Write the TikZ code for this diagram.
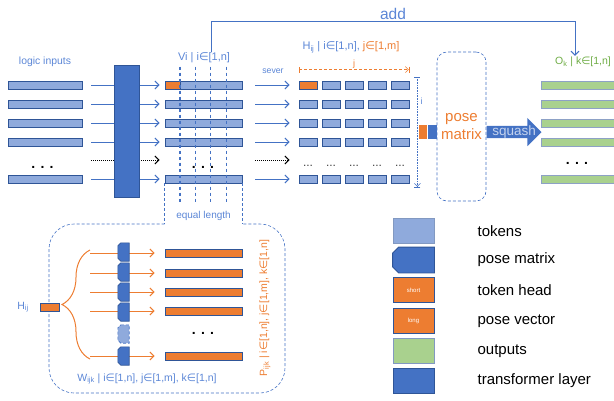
\documentclass[tikz,border=0pt]{standalone}
\usepackage{fontspec}
\setmainfont{Liberation Sans}
\newfontfamily\symf{DejaVu Sans}
\usepackage{xcolor}
\usepackage{tikz}
\usetikzlibrary{arrows.meta,decorations.pathreplacing,shapes.arrows,calc}

\definecolor{tokfill}{HTML}{8FAADC}
\definecolor{tokline}{HTML}{2F5597}
\definecolor{dblue}{HTML}{4472C4}
\definecolor{orng}{HTML}{ED7D31}
\definecolor{grn}{HTML}{A9D18E}
\definecolor{grntxt}{HTML}{70AD47}
\definecolor{lbl}{HTML}{5B86D6}
\definecolor{sqtxt}{HTML}{C5D3EE}
\newcommand{\fsz}[1]{\fontsize{#1}{#1}\selectfont}
\newcommand{\isin}{{\symf\char"2208}}
% pose matrix outline: left corners cut
\newcommand{\pmshape}[3]{%
  \filldraw[#1] ([xshift=#3]#2.north west) -- (#2.north east) -- (#2.south east)
    -- ([xshift=#3]#2.south west) -- ([yshift=#3]#2.south west)
    -- ([yshift=-#3]#2.north west) -- cycle;}

\begin{document}
\begin{tikzpicture}[
  x=1pt,y=-1pt,
  >={Straight Barb[length=4pt,width=8pt]},
  tokbar/.style={draw=tokline,fill=tokfill,line width=0.8pt,minimum height=8pt,inner sep=0pt,minimum width=#1},
  obar/.style={tokbar=#1,fill=orng},
  gbar/.style={tokbar=#1,fill=grn,draw=tokline!55},
  conn/.style={->,dblue,line width=1pt},
  dotconn/.style={->,densely dotted,line width=1pt,black},
  oconn/.style={->,orng,line width=1pt},
  cut/.style={dblue,dashed,line width=1.2pt},
  fine/.style={dblue,densely dashed,line width=0.6pt},
  pmat/.style={inner sep=0pt,minimum width=11pt,minimum height=18pt},
  pmline/.style={draw=tokline,fill=dblue,line width=0.6pt},
  lab/.style={text=lbl,inner sep=1pt},
  dots/.style={font=\fsz{14}\bfseries,inner sep=0pt},
  sdots/.style={font=\fsz{12},text=black!75,inner sep=0pt},
  keybox/.style={draw=tokline,line width=0.8pt,minimum width=41pt,minimum height=25pt,inner sep=0pt},
  keytxt/.style={anchor=west,font=\fsz{15},inner sep=0pt}
]
\useasboundingbox (0,0) rectangle (614,400);
\coordinate (gap) at (0,160);
\coordinate (boxtop) at (0,224);

% inputs, tokens and heads
\node[lab,font=\fsz{10.4}] (inlab) at (45,62) {logic inputs};
\foreach \r/\y in {1/85,2/104,3/123,4/142,6/179}{
  \node[tokbar=74] (in\r) at (45,\y) {};
  \node[tokbar=77] (v\r) at (203.5,\y) {};
  \foreach \c in {1,...,5}
    \node[tokbar=18] (h\r\c) at (285+23*\c,\y) {};
  \node[gbar=80] (o\r) at (581,\y) {};
}
\node[obar=15,anchor=west] (vh) at (v1.west) {};
\node[obar=18] (h11) at (308,85) {};
\node[dots] (indots) at (42.5,167) {. . .};
\node[dots] (vdots) at (203,167) {. . .};
\node[dots] (odots) at (577,163) {. . .};
\foreach \c in {1,...,5}
  \node[sdots] (hd\c) at (285+23*\c,166) {...};

\foreach \r in {1,2,3,4,6}{
  \draw[conn,shorten <=9pt,shorten >=5pt] (in\r) -- (v\r);
  \draw[conn,shorten <=13pt,shorten >=9pt] (v\r) -- (h\r1);
}
\draw[dotconn,shorten <=9pt,shorten >=5pt] (in1.east |- gap) -- (v1.west |- gap);
\draw[dotconn,shorten <=13pt,shorten >=9pt] (v1.east |- gap) -- (h11.west |- gap);
\node[fill=dblue,draw=tokline,line width=0.6pt,minimum width=25pt,minimum height=132pt,inner sep=0pt] (trf) at (126.5,131) {};

\foreach \k in {1,...,4}
  \draw[cut] ($(v1.north west)+(15.4*\k,-14)$) -- ($(v6.south west)+(15.4*\k,21)$);
\node[lab,font=\fsz{11}] (vlab) at (204,58) {Vi | i\isin[1,n]};
\node[lab,font=\fsz{8.7}] (sever) at (273,71) {sever};

% H grid labels and dimensions
\node[lab,font=\fsz{11}] (hlab) at (351,47) {H\textsubscript{ij} | i\isin[1,n],\ \textcolor{orng}{j\isin[1,m]}};
\draw[orng,densely dashed,line width=0.6pt,{Bar[width=6pt]}-{Straight Barb[length=3pt,width=6pt]Bar[width=6pt]}]
  ([yshift=11pt]h11.north west) -- node[above,font=\fsz{9},inner sep=1pt] (jlab) {j} ([yshift=11pt]h15.north east);
\draw[dblue,densely dotted,line width=0.6pt,{Bar[width=6pt]}-{Straight Barb[length=3pt,width=6pt]Bar[width=6pt]}]
  ([xshift=8pt,yshift=4pt]h15.north east) -- node[pos=0.22,right,lab,font=\fsz{9},inner sep=3pt] (ilab) {i} ([xshift=8pt,yshift=-4pt]h65.south east);

% pose matrix and squash
\node[draw=dblue,densely dashed,line width=0.6pt,rounded corners=10pt,minimum width=49pt,minimum height=149pt,
  text=orng,align=center,font=\fontsize{15}{18}\selectfont] (pose) at (461.5,126.5) {pose\\matrix};
\node[fill=dblue,minimum width=9pt,minimum height=14pt,inner sep=0pt,anchor=east] (pb) at (pose.west |- 0,132) {};
\node[fill=orng,minimum width=8pt,minimum height=14pt,inner sep=0pt,anchor=east] (ph) at (pb.west) {};
\node[single arrow,fill=dblue,anchor=tail,minimum height=55pt,single arrow head extend=8pt,single arrow head indent=0pt,
  inner sep=0pt,text height=9pt,text depth=3pt] (sq) at (pose.east |- pb) {};
\node[text=sqtxt,font=\fsz{13.5},inner sep=0pt] (sqlab) at ($(sq.tail)!0.5!(sq.tip)$) {squash};
\node[font=\fsz{10.5},text=grntxt,inner sep=1pt] (olab) at (583,62) {O\textsubscript{k} | k\isin[1,n]};
\draw[conn] ([xshift=7pt]vlab.north) -- ++(0,-30) -| node[pos=0.25,above,font=\fsz{15.5},text=lbl,inner sep=2pt] (addlab) {add} ([xshift=-8pt]olab.north);

% head to pose vectors
\node[lab,font=\fsz{10}] (eqlab) at (203.5,216) {equal length};
\draw[fine] (v6.south west) -- (v6.south west |- boxtop);
\draw[fine] (v6.south east) -- (v6.south east |- boxtop);
\draw[fine,rounded corners=25pt] (v6.south west |- boxtop) -- (49,224) -- (49,393) -- (285,393) -- (285,224) -- (v6.south east |- boxtop);
\node[obar=19] (hij) at (49.5,307) {};
\node[lab,font=\fsz{10.5}] (hijlab) at (23,307) {H\textsubscript{ij}};
\coordinate (brtop) at (90,250);
\coordinate (brbot) at (90,359);
\draw[orng,line width=1pt,decorate,decoration={brace,amplitude=28pt}] (brbot) -- (brtop);
\foreach \r/\y in {1/253,2/273,3/292,4/311,6/356}{
  \node[obar=77] (p\r) at (203.5,\y) {};
  \draw[oconn,shorten >=10pt] (brtop |- p\r) -- (p\r);
}
\foreach \r/\y in {1/252,2/272,3/292,4/312,6/356}{
  \node[pmat] (w\r) at (123.5,\y) {};
  \pmshape{pmline}{w\r}{3pt}
}
\node[pmat] (w5) at (123.5,334) {};
\pmshape{pmline,fill=tokfill,draw=dblue,densely dashed}{w5}{3pt}
\node[dots] (pdots) at (203,333) {. . .};
\node[lab,font=\fsz{10.5}] (wlab) at (147,379) {W\textsubscript{ijk} | i\isin[1,n], j\isin[1,m], k\isin[1,n]};
\node[lab,text=orng,rotate=90,font=\fsz{10.5}] (plab) at (265,308) {P\textsubscript{ijk} | i\isin[1,n], j\isin[1,m], k\isin[1,n]};

% legend
\node[keybox,fill=tokfill,draw=tokline!60] (k1) at (413.5,231) {};
\node[keybox,draw=none] (k2) at (413.5,260) {};
\pmshape{pmline,line width=0.8pt}{k2}{6pt}
\node[keybox,fill=orng,text=white,font=\fsz{6}] (k3) at (413.5,290) {short};
\node[keybox,fill=orng,text=white,font=\fsz{6}] (k4) at (413.5,321) {long};
\node[keybox,fill=grn,draw=tokline!60] (k5) at (413.5,351) {};
\node[keybox,fill=dblue] (k6) at (413.5,381) {};
\node[keytxt] (t1) at ([xshift=43pt]k1.east) {tokens};
\node[keytxt] (t2) at ([xshift=43pt]k2.east) {pose matrix};
\node[keytxt] (t3) at ([xshift=43pt]k3.east) {token head};
\node[keytxt] (t4) at ([xshift=43pt]k4.east) {pose vector};
\node[keytxt] (t5) at ([xshift=43pt]k5.east) {outputs};
\node[keytxt] (t6) at ([xshift=43pt]k6.east) {transformer layer};
\end{tikzpicture}
\end{document}
